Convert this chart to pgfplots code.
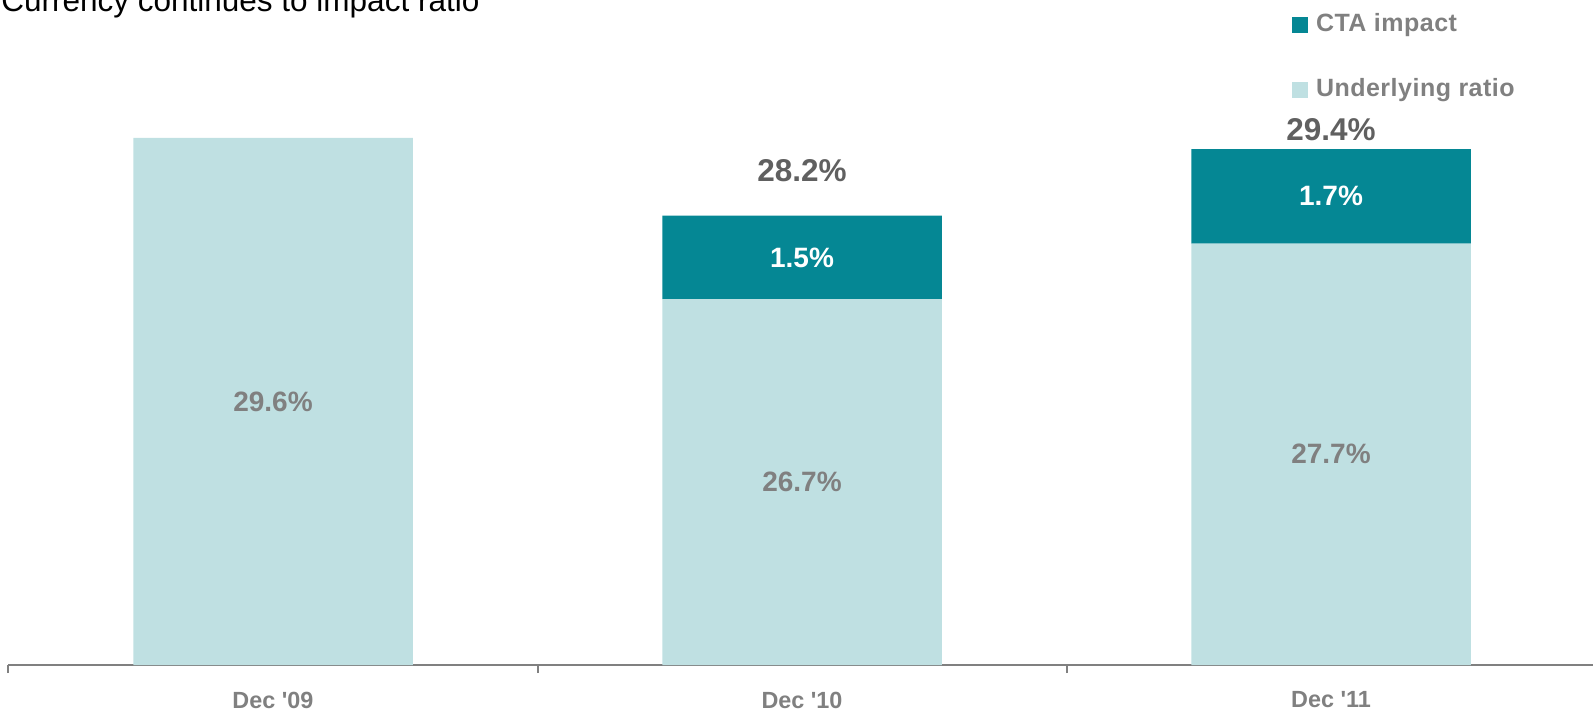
\documentclass[border=0pt]{standalone}
\usepackage{pgfplots}
\pgfplotsset{compat=1.18}
\usepackage{fontspec}
\setmainfont{Liberation Sans}
\newfontfamily\legfont[LetterSpace=2]{Liberation Sans}
\definecolor{cta}{RGB}{5,135,148}
\definecolor{under}{RGB}{191,224,226}
\definecolor{axgray}{RGB}{128,128,128}
\definecolor{lblgray}{RGB}{128,128,128}
\definecolor{totgray}{RGB}{96,96,96}
\pgfplotsset{sqlegend/.style={legend image code/.code={\fill[##1] (0pt,-4pt) rectangle (8pt,4pt); \path (11pt,0pt);}}}
\begin{document}
\begin{tikzpicture}
\path[use as bounding box] (0,0) rectangle (796.5pt,356pt);
\node[anchor=base west, font=\fontsize{15.75}{18}\selectfont, inner sep=0pt] at (0.5pt,350.2pt) {Currency continues to impact ratio};
\begin{axis}[
  at={(4.25pt,23.5pt)}, anchor=south west,
  x=264.5pt, y=27.8pt,
  xmin=-0.5, xmax=2.5, ymin=20.12, ymax=32.08,
  ybar stacked, bar width=139.75pt,
  axis x line=bottom, axis y line=none,
  x axis line style={-, draw=axgray, line width=1pt},
  xtick={0,1,2},
  xticklabels={Dec \textquotesingle 09, Dec \textquotesingle 10, Dec \textquotesingle 11},
  minor xtick={-0.5,0.5,1.5,2.5},
  major tick length=0pt, minor tick length=4pt, tick align=outside,
  tick style={draw=axgray, line width=1pt},
  xticklabel style={font=\bfseries\fontsize{11.7}{14}\selectfont, text=lblgray, anchor=center, yshift=-17.5pt},
  ytick=\empty,
  reverse legend,
  legend cell align=left,
  legend style={draw=none, fill=none, at={(0.8085,0.984)}, anchor=north west,
    font=\legfont\bfseries\fontsize{12.5}{14}\selectfont, text=lblgray,
    row sep=19pt, inner sep=0pt,
    nodes={inner sep=1pt, text height=9pt, text depth=2.5pt}},
]
\addplot[fill=under, draw=none, sqlegend,
  visualization depends on={value \thisrow{y} \as \ry},
  nodes near coords={\ifdim\ry pt>0pt \ry\%\fi},
  nodes near coords style={anchor=center, yshift=279.67pt,
    font=\bfseries\fontsize{14}{16}\selectfont, text=lblgray}]
  table {
x y
0 29.6
1 26.7
2 27.7
};
\addlegendentry{Underlying ratio}
\addplot[fill=cta, draw=none, sqlegend,
  visualization depends on={value \thisrow{y} \as \ry},
  nodes near coords={\ifdim\ry pt>0pt \ry\%\fi},
  nodes near coords style={anchor=center,
    font=\bfseries\fontsize{14}{16}\selectfont, text=white}]
  table {
x y
0 0
1 1.5
2 1.7
};
\addlegendentry{CTA impact}
\end{axis}
\begin{axis}[
  at={(4.25pt,23.5pt)}, anchor=south west,
  x=264.5pt, y=27.8pt,
  xmin=-0.5, xmax=2.5, ymin=20.12, ymax=32.08,
  hide axis, clip=false,
]
\addplot[draw=none,
  visualization depends on={value \thisrow{y} \as \ty},
  visualization depends on={value \thisrow{off} \as \off},
  nodes near coords={\ty\%},
  nodes near coords style={anchor=center, yshift=\off pt,
    font=\bfseries\fontsize{15.75}{18}\selectfont, text=totgray}]
  table {
x y off
1 28.2 22.65
2 29.4 9.5
};
\end{axis}
\end{tikzpicture}
\end{document}
